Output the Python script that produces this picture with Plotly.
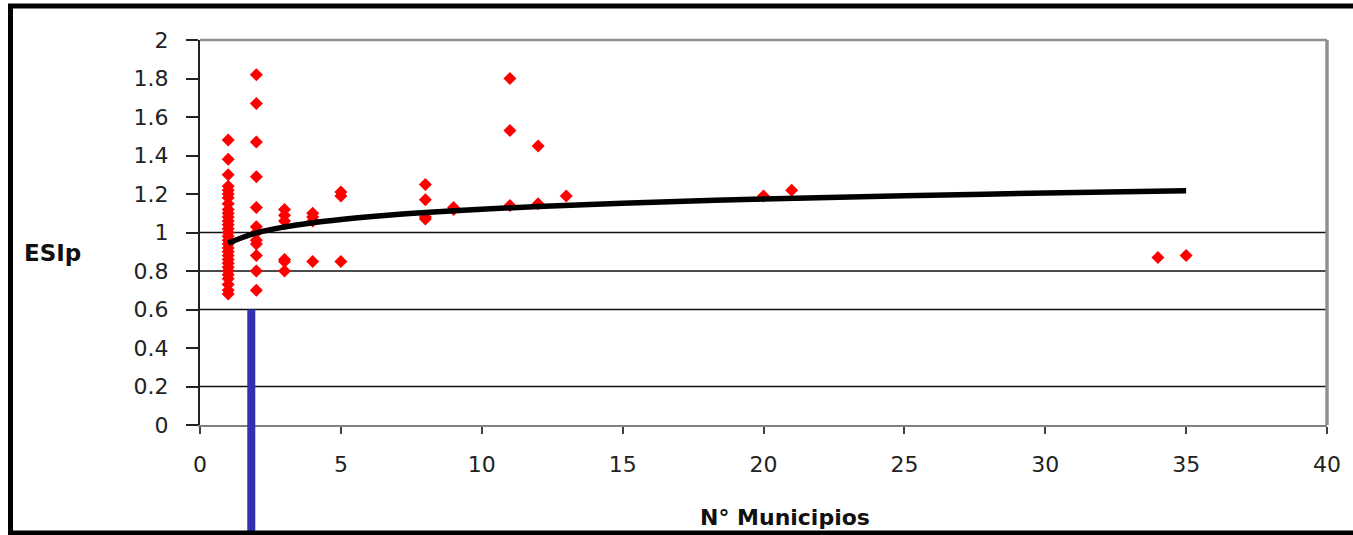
import plotly.graph_objects as go

# ---- data ----
x1_vals = [1.48, 1.38, 1.30, 1.24, 1.22, 1.20, 1.18, 1.15, 1.12, 1.10, 1.08, 1.06, 1.04,
           1.02, 1.00, 0.98, 0.96, 0.94, 0.92, 0.90, 0.88, 0.86, 0.84, 0.82, 0.80,
           0.78, 0.76, 0.73, 0.70, 0.68]
x2_vals = [1.82, 1.67, 1.47, 1.29, 1.13, 1.03, 1.00, 0.96, 0.94, 0.88, 0.80, 0.70]
x3_vals = [1.12, 1.09, 1.06, 0.86, 0.85, 0.80]
x4_vals = [1.10, 1.08, 1.06, 0.85]
x5_vals = [1.21, 1.19, 0.85]
x8_vals = [1.25, 1.17, 1.08, 1.07]
x9_vals = [1.13, 1.12]
x11_vals = [1.80, 1.53, 1.14]
x12_vals = [1.45, 1.15]
x13_vals = [1.19]
x20_vals = [1.19]
x21_vals = [1.22]
x34_vals = [0.87]
x35_vals = [0.88]

groups = {1: x1_vals, 2: x2_vals, 3: x3_vals, 4: x4_vals, 5: x5_vals, 8: x8_vals,
          9: x9_vals, 11: x11_vals, 12: x12_vals, 13: x13_vals, 20: x20_vals,
          21: x21_vals, 34: x34_vals, 35: x35_vals}

# logarithmic trend line
trend_x = [1, 2, 3, 4, 5, 6, 8, 10, 12, 15, 20, 25, 30, 35]
trend_y = [0.945, 0.998, 1.029, 1.051, 1.068, 1.082, 1.104, 1.121, 1.135, 1.152,
           1.174, 1.191, 1.205, 1.217]

x_ticks = [0, 5, 10, 15, 20, 25, 30, 35, 40]
y_ticks = [0, 0.2, 0.4, 0.6, 0.8, 1, 1.2, 1.4, 1.6, 1.8, 2]
y_tick_text = ["0", "0.2", "0.4", "0.6", "0.8", "1", "1.2", "1.4", "1.6", "1.8", "2"]
grid_levels = [0.2, 0.6, 0.8, 1.0]
blue_line_x = 1.82
blue_line_top = 0.6

x_label = "N° Municipios"
y_label = "ESIp"

# ---- figure ----
px_list, py_list = [], []
for k, vals in groups.items():
    for v in vals:
        px_list.append(k)
        py_list.append(v)

fig = go.Figure()
fig.add_trace(go.Scatter(x=px_list, y=py_list, mode="markers",
                         marker=dict(symbol="diamond", size=10, color="#ff0000",
                                     line=dict(width=0)),
                         showlegend=False))
fig.add_trace(go.Scatter(x=trend_x, y=trend_y, mode="lines",
                         line=dict(color="black", width=5.5, shape="spline"),
                         showlegend=False))

L, R, T, B = 200, 23, 40, 110
W, H = 1353, 535
pw, ph = W - L - R, H - T - B
y_range = [0, 2]

shapes = []
for g in grid_levels:
    shapes.append(dict(type="line", xref="paper", yref="y", x0=0, x1=1, y0=g, y1=g,
                       line=dict(color="#111111", width=1.3), layer="below"))
# plot border top / right (gray)
shapes.append(dict(type="line", xref="paper", yref="paper", x0=0, x1=1, y0=1, y1=1,
                   line=dict(color="#909090", width=2.5)))
shapes.append(dict(type="line", xref="paper", yref="paper", x0=1, x1=1, y0=0, y1=1,
                   line=dict(color="#909090", width=3.5)))
# blue vertical line
shapes.append(dict(type="line", xref="x", yref="paper", x0=blue_line_x, x1=blue_line_x,
                   y0=blue_line_top / (y_range[1] - y_range[0]), y1=-(B + 5) / ph,
                   line=dict(color="#3030b0", width=8)))
# outer black frame
shapes.append(dict(type="rect", xref="paper", yref="paper",
                   x0=(10 - L) / pw, x1=(1365 - L) / pw,
                   y0=-(533 - (T + ph)) / ph, y1=1 + (T - 6) / ph,
                   line=dict(color="black", width=5), fillcolor="rgba(0,0,0,0)"))

fig.update_layout(
    width=W, height=H,
    margin=dict(l=L, r=R, t=T, b=B),
    paper_bgcolor="white", plot_bgcolor="white",
    font=dict(family="DejaVu Sans", size=22, color="#1a1a1a"),
    shapes=shapes,
    annotations=[
        dict(text="<b>" + x_label + "</b>", xref="paper", yref="paper",
             x=(787 - L) / pw, y=-(517 - (T + ph)) / ph, showarrow=False,
             font=dict(family="DejaVu Sans", size=22, color="#111111"),
             xanchor="center", yanchor="middle"),
        dict(text="<b>" + y_label + "</b>", xref="paper", yref="paper",
             x=(22 - L) / pw, y=1 - (253 - T) / ph, showarrow=False,
             font=dict(family="DejaVu Sans", size=23, color="#111111"),
             xanchor="left", yanchor="middle"),
    ],
)
fig.update_xaxes(range=[0, 40], tickvals=x_ticks, showgrid=False, zeroline=False,
                 showline=True, linecolor="#808080", linewidth=2,
                 ticks="outside", ticklen=7, tickcolor="#404040", tickwidth=1.5,
                 ticklabelstandoff=12, tickfont=dict(size=22, color="#222222"))
fig.update_yaxes(range=y_range, tickvals=y_ticks, ticktext=y_tick_text, showgrid=False,
                 zeroline=False, showline=True, linecolor="#222222", linewidth=2,
                 ticks="outside", ticklen=12, tickcolor="#222222", tickwidth=1.5,
                 ticklabelstandoff=13, tickfont=dict(size=22, color="#222222"))

fig.write_html("out.html", config={"displayModeBar": False},
               post_script="document.body.style.margin='0';document.body.style.overflow='hidden';")
